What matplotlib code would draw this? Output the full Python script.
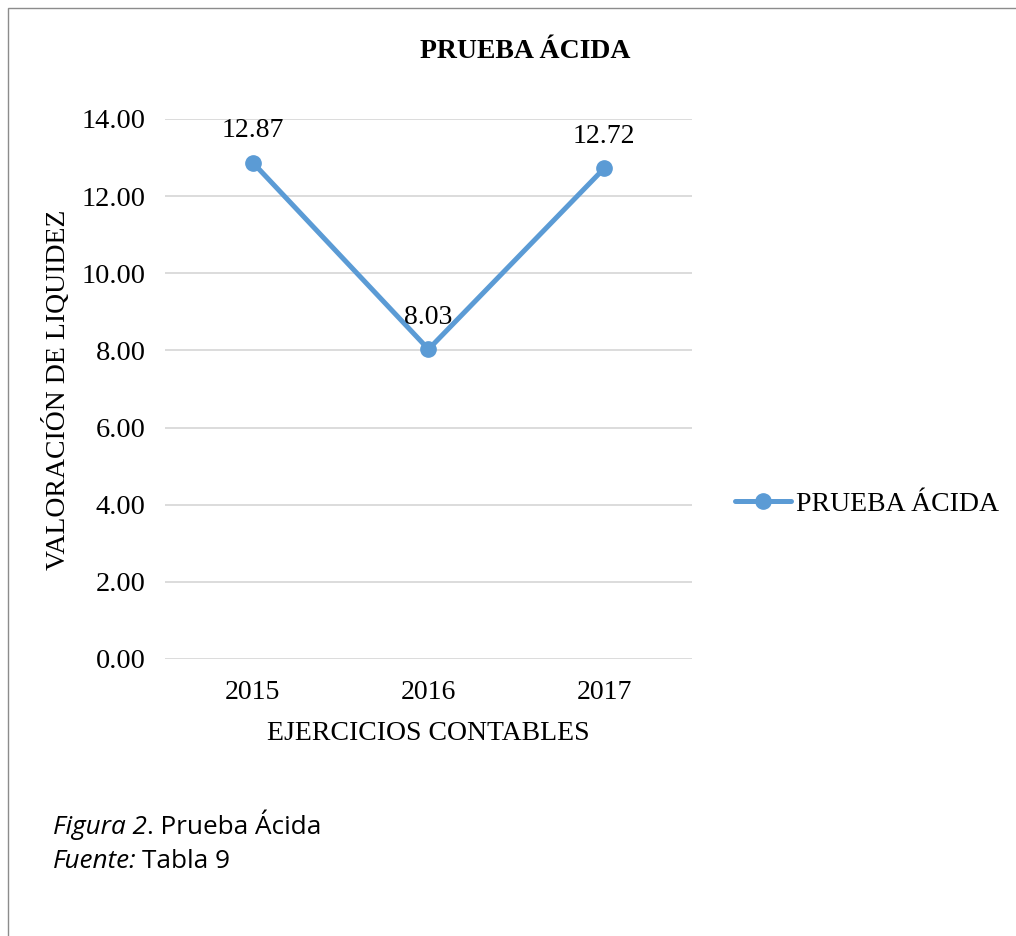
import matplotlib.pyplot as plt
from matplotlib.patches import Rectangle

years = ['2015', '2016', '2017']
prueba_acida = [12.87, 8.03, 12.72]
labels = ['12.87', '8.03', '12.72']
yticks = [0, 2, 4, 6, 8, 10, 12, 14]

serif = ['Liberation Serif', 'DejaVu Serif']
sans = ['Open Sans', 'DejaVu Sans']
blue = '#5B9BD5'
W, H = 1016, 936

fig = plt.figure(figsize=(W / 100, H / 100), dpi=100)
ax = fig.add_axes([165 / W, 1 - 659 / H, 527 / W, 540 / H])

x = range(len(years))
ax.plot(x, prueba_acida, color=blue, lw=3.6, marker='o', ms=11,
        solid_capstyle='round', label='PRUEBA ÁCIDA', zorder=3)
for xi, v, t in zip(x, prueba_acida, labels):
    ax.annotate(t, (xi, v), xytext=(0, 23), textcoords='offset points',
                ha='center', va='center', fontsize=20, family=serif)

ax.set_xlim(-0.5, 2.5)
ax.set_ylim(0, 14)
ax.set_yticks(yticks)
ax.set_yticklabels(['{:.2f}'.format(v) for v in yticks], family=serif, fontsize=20.5)
ax.set_xticks(list(x))
ax.set_xticklabels(years, family=serif, fontsize=20)
ax.tick_params(axis='x', length=0, pad=15)
ax.tick_params(axis='y', length=0, pad=14)
ax.grid(axis='y', color='#d9d9d9', lw=1.3)
ax.set_axisbelow(True)
for s in ax.spines.values():
    s.set_visible(False)

fig.text(428 / W, 1 - 733 / H, 'EJERCICIOS CONTABLES', ha='center', va='center',
         family=serif, fontsize=20)
fig.text(57 / W, 1 - 390 / H, 'VALORACIÓN DE LIQUIDEZ', ha='center', va='center',
         rotation=90, family=serif, fontsize=20)
fig.text(525 / W, 1 - 52 / H, 'PRUEBA ÁCIDA', ha='center', va='center',
         family=serif, fontsize=20, fontweight='bold')

ax.legend(loc='center left', bbox_to_anchor=((735 - 165) / 527, (659 - 504) / 540),
          frameon=False, prop={'family': serif, 'size': 20},
          handlelength=2.0, handletextpad=0.18, borderaxespad=0, borderpad=0)

# caption below the chart
t1 = fig.text(53 / W, 1 - 828 / H, 'Figura 2', ha='left', va='center',
              family=sans, style='italic', fontsize=18.8)
fig.canvas.draw()
bb = t1.get_window_extent()
fig.text(bb.x1 / W, 1 - 828 / H, '. Prueba Ácida', ha='left', va='center',
         family=sans, fontsize=18.8)
t2 = fig.text(53 / W, 1 - 862 / H, 'Fuente:', ha='left', va='center',
              family=sans, style='italic', fontsize=18.8)
fig.canvas.draw()
bb2 = t2.get_window_extent()
fig.text(bb2.x1 / W + 0.005, 1 - 862 / H, 'Tabla 9', ha='left', va='center',
         family=sans, fontsize=18.8)

fig.patches.append(Rectangle((8 / W, -0.01), 1.0, 1 - 8 / H + 0.01,
                             transform=fig.transFigure, fill=False,
                             edgecolor='#8c8c8c', lw=1))

fig.savefig('out.png', dpi=100)
